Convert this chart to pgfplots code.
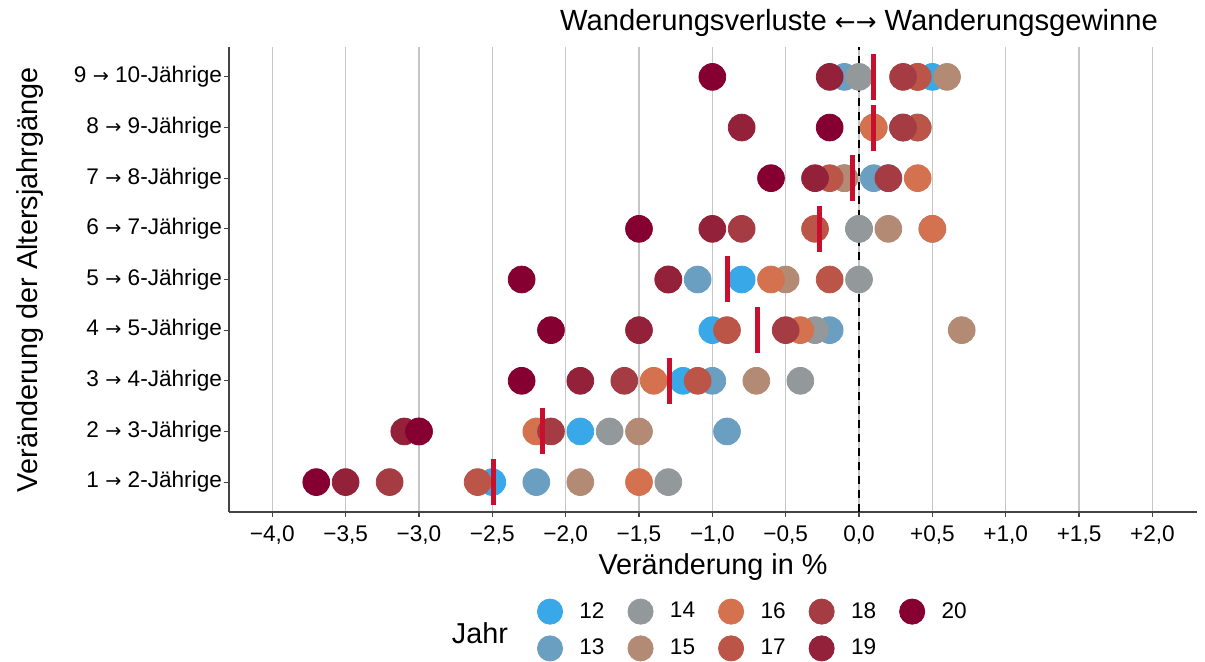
\documentclass[border=0pt]{standalone}
\usepackage{fontspec}
\setmainfont{Liberation Sans}
\newfontfamily\arrfont[Scale=0.85]{DejaVu Sans}
\usepackage{pgfplots}
\pgfplotsset{compat=1.18}

\definecolor{c12}{HTML}{38A8E8}
\definecolor{c13}{HTML}{6A9FC2}
\definecolor{c14}{HTML}{93989A}
\definecolor{c15}{HTML}{B38A74}
\definecolor{c16}{HTML}{D4714F}
\definecolor{c17}{HTML}{BA5548}
\definecolor{c18}{HTML}{A53C43}
\definecolor{c19}{HTML}{932139}
\definecolor{c20}{HTML}{850030}
\definecolor{cmean}{HTML}{C8102E}
\definecolor{axisgray}{HTML}{444444}

\newcommand{\ar}{{\arrfont →}}

\pgfplotsset{
  dot/.style={only marks, mark=*, mark size=6.7pt, color=#1, forget plot},
}

\begin{document}
\begin{tikzpicture}
\useasboundingbox (-114.5pt,-75pt) rectangle (488pt,256pt);
\begin{axis}[
  scale only axis,
  width=484pt, height=232.5pt,
  xmin=-4.295, xmax=2.304,
  ymin=0.41, ymax=9.59,
  clip=false,
  axis lines*=left,
  axis line style={axisgray, line width=0.75pt},
  tick align=outside,
  major tick length=2.5pt,
  tick style={axisgray, line width=0.6pt},
  xtick={-4,-3.5,...,2},
  xticklabels={{−4,0},{−3,5},{−3,0},{−2,5},{−2,0},{−1,5},{−1,0},{−0,5},{0,0},{+0,5},{+1,0},{+1,5},{+2,0}},
  ytick={1,...,9},
  yticklabels={{1 \ar{} 2-Jährige}, {2 \ar{} 3-Jährige}, {3 \ar{} 4-Jährige}, {4 \ar{} 5-Jährige}, {5 \ar{} 6-Jährige}, {6 \ar{} 7-Jährige}, {7 \ar{} 8-Jährige}, {8 \ar{} 9-Jährige}, {9 \ar{} 10-Jährige}},
  ticklabel style={font=\fontsize{11.3}{13}\selectfont},
  yticklabel style={xshift=2.5pt},
  xticklabel style={yshift=-1pt},
  xmajorgrids,
  major grid style={gray!45, line width=0.7pt},
  xlabel={Veränderung in \%},
  ylabel={Veränderung der Altersjahrgänge},
  every axis x label/.style={at={(rel axis cs:0.5,-0.118)}, anchor=center, font=\fontsize{14.4}{16}\selectfont},
  every axis y label/.style={at={(rel axis cs:-0.2056,0.499)}, anchor=center, rotate=90, font=\fontsize{14.4}{16}\selectfont},
  legend columns=5,
  legend image code/.code={\path[draw=none, fill=none] (0pt,-6.3pt) rectangle (21pt,6.3pt); \fill[#1] (6.3pt,0pt) circle (6.3pt);},
  legend style={draw=none, fill=none, inner sep=0pt, outer sep=0pt,
    at={(rel axis cs:0.3182,-0.2538)}, anchor=west,
    font=\fontsize{11.3}{13}\selectfont, row sep=5.4pt,
    nodes={inner sep=0pt, anchor=west},
    /tikz/every even column/.append style={column sep=11.5pt}},
]
% years 12 .. 20, rows 1..9
\addplot[dot=c12] coordinates {(-2.5,1) (-1.9,2) (-1.2,3) (-1.0,4) (-0.8,5) (0.5,6) (0.2,7) (0.3,8) (0.5,9)};
\addplot[dot=c13] coordinates {(-2.2,1) (-0.9,2) (-1.0,3) (-0.2,4) (-1.1,5) (0.0,6) (0.1,7) (0.4,8) (-0.1,9)};
\addplot[dot=c14] coordinates {(-1.3,1) (-1.7,2) (-0.4,3) (-0.3,4) (0.0,5) (0.0,6) (-0.1,7) (0.1,8) (0.0,9)};
\addplot[dot=c15] coordinates {(-1.9,1) (-1.5,2) (-0.7,3) (0.7,4) (-0.5,5) (0.2,6) (-0.1,7) (0.3,8) (0.6,9)};
\addplot[dot=c16] coordinates {(-1.5,1) (-2.2,2) (-1.4,3) (-0.4,4) (-0.6,5) (0.5,6) (0.4,7) (0.1,8) (0.4,9)};
\addplot[dot=c17] coordinates {(-2.6,1) (-3.0,2) (-1.1,3) (-0.9,4) (-0.2,5) (-0.3,6) (-0.2,7) (0.4,8) (0.4,9)};
\addplot[dot=c18] coordinates {(-3.2,1) (-2.1,2) (-1.6,3) (-0.5,4) (-1.3,5) (-0.8,6) (0.2,7) (0.3,8) (0.3,9)};
\addplot[dot=c19] coordinates {(-3.5,1) (-3.1,2) (-1.9,3) (-1.5,4) (-1.3,5) (-1.0,6) (-0.3,7) (-0.8,8) (-0.2,9)};
\addplot[dot=c20] coordinates {(-3.7,1) (-3.0,2) (-2.3,3) (-2.1,4) (-2.3,5) (-1.5,6) (-0.6,7) (-0.2,8) (-1.0,9)};
% zero line
\draw[black, line width=1.4pt, dash pattern=on 4pt off 3pt] (axis cs:0,0.41) -- (axis cs:0,9.59);
% means
\addplot[only marks, mark=|, mark size=11.5pt, mark options={cmean, line width=2.5pt}, forget plot]
  coordinates {(-2.489,1) (-2.156,2) (-1.289,3) (-0.689,4) (-0.9,5) (-0.267,6) (-0.044,7) (0.1,8) (0.1,9)};
% legend
\addlegendimage{c12}\addlegendentry{12}
\addlegendimage{c14}\addlegendentry{14}
\addlegendimage{c16}\addlegendentry{16}
\addlegendimage{c18}\addlegendentry{18}
\addlegendimage{c20}\addlegendentry{20}
\addlegendimage{c13}\addlegendentry{13}
\addlegendimage{c15}\addlegendentry{15}
\addlegendimage{c17}\addlegendentry{17}
\addlegendimage{c19}\addlegendentry{19}
\node[font=\fontsize{14.6}{17}\selectfont, anchor=center] at (axis cs:0,9.59) [yshift=12pt] {Wanderungsverluste {\arrfont ←→} Wanderungsgewinne};
\node[font=\fontsize{14.4}{16}\selectfont, anchor=center] at (rel axis cs:0.2593,-0.260) {Jahr};
\end{axis}
\end{tikzpicture}
\end{document}
